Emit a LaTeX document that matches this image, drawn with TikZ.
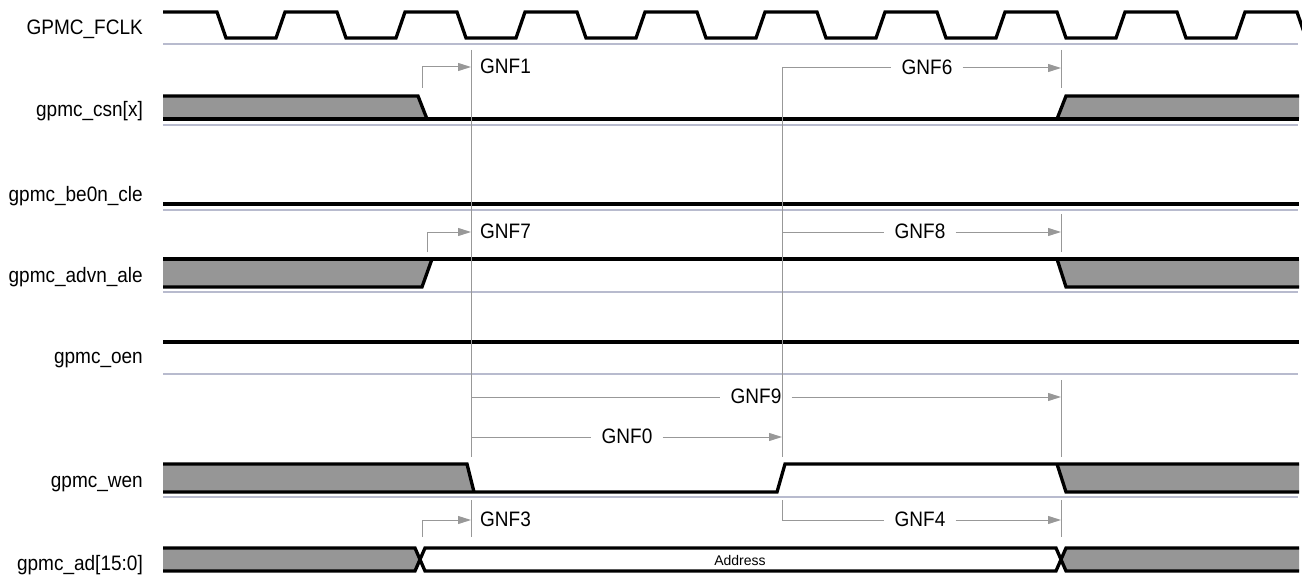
\documentclass[tikz,border=0pt]{standalone}
\usepackage{fontspec}
\setmainfont{Liberation Sans}
\usetikzlibrary{arrows.meta}
\definecolor{basec}{RGB}{184,187,206}
\definecolor{dcare}{RGB}{150,150,150}
\definecolor{annc}{RGB}{152,152,152}
\newcommand{\tall}[1]{\scalebox{1}[1.1]{#1}}
\begin{document}
\begin{tikzpicture}[x=1pt,y=-1pt,
  sig/.style={line width=3.3pt},
  baseln/.style={draw=basec,line width=1.3pt},
  dc/.style={fill=dcare},
  ann/.style={draw=annc,line width=1pt},
  annarr/.style={ann,-{Triangle[length=13pt,width=8pt]},color=annc},
  lbl/.style={anchor=base east,inner sep=0pt,font=\fontsize{19}{22}\selectfont},
  gnf/.style={inner xsep=10pt,inner ysep=0pt,font=\fontsize{19}{22}\selectfont},
  gnfl/.style={anchor=west,inner xsep=9pt,inner ysep=0pt,font=\fontsize{19}{22}\selectfont}]
\useasboundingbox (0,0) rectangle (1302,575);

% signal labels
\node[lbl] (lclk) at (143,35) {\tall{GPMC\_FCLK}};
\node[lbl] (lcsn) at (143,117) {\tall{gpmc\_csn[x]}};
\node[lbl] (lbe) at (143,201) {\tall{gpmc\_be0n\_cle}};
\node[lbl] (ladv) at (143,282) {\tall{gpmc\_advn\_ale}};
\node[lbl] (loen) at (143,363) {\tall{gpmc\_oen}};
\node[lbl] (lwen) at (143,487) {\tall{gpmc\_wen}};
\node[lbl] (lad) at (143,570) {\tall{gpmc\_ad[15:0]}};

% baselines
\foreach \y in {44,125,210,292,374,497} \draw[baseln] (163,\y) -- (1298,\y);

% clock
\begin{scope}
\clip (160,0) rectangle (1302,60);
\draw[sig] (163,12)
  \foreach \k in {0,...,9} {
    -- ({217+120*\k},12) -- ({226+120*\k},38) -- ({276+120*\k},38) -- ({285+120*\k},12)
  };
\end{scope}

% gpmc_csn[x]
\fill[dc] (163,96) -- (418,96) -- (427,119) -- (163,119) -- cycle;
\fill[dc] (1057,119) -- (1066,96) -- (1299,96) -- (1299,119) -- cycle;
\draw[sig] (163,96) -- (418,96) -- (427,119);
\draw[sig] (163,119) -- (1299,119);
\draw[sig] (1057,119) -- (1066,96) -- (1299,96);

% gpmc_be0n_cle
\draw[sig] (163,204) -- (1299,204);

% gpmc_advn_ale
\fill[dc] (163,259) -- (432,259) -- (422,287) -- (163,287) -- cycle;
\fill[dc] (1057,259) -- (1299,259) -- (1299,287) -- (1066,287) -- cycle;
\draw[sig] (163,259) -- (1299,259);
\draw[sig] (163,287) -- (422,287) -- (432,259);
\draw[sig] (1057,259) -- (1066,287) -- (1299,287);

% gpmc_oen
\draw[sig] (163,342) -- (1299,342);

% gpmc_wen
\fill[dc] (163,464) -- (467,464) -- (474,492) -- (163,492) -- cycle;
\fill[dc] (1057,464) -- (1299,464) -- (1299,492) -- (1066,492) -- cycle;
\draw[sig] (163,464) -- (467,464) -- (474,492);
\draw[sig] (163,492) -- (777,492) -- (785,464) -- (1299,464);
\draw[sig] (1057,464) -- (1066,492) -- (1299,492);

% gpmc_ad[15:0]
\fill[dc] (163,548) -- (415,548) -- (420,559.5) -- (415,571) -- (163,571) -- cycle;
\fill[dc] (1061,559.5) -- (1066,548) -- (1299,548) -- (1299,571) -- (1066,571) -- cycle;
\draw[sig] (163,548) -- (415,548) -- (425,571) -- (1056,571) -- (1066,548) -- (1299,548);
\draw[sig] (163,571) -- (415,571) -- (425,548) -- (1056,548) -- (1066,571) -- (1299,571);
\node[font=\fontsize{14}{16}\selectfont] (addr) at (740,560) {Address};

% timing reference lines
\coordinate (t1top) at (471,50);
\coordinate (t1bot) at (471,457);
\coordinate (t2top) at (782,68);
\coordinate (t2bot) at (782,457);
\draw[ann] (t1top) -- (t1bot);
\draw[ann] (t2top) -- (t2bot);
\draw[ann] (1061,50) -- (1061,88);
\draw[ann] (1061,214) -- (1061,252);
\draw[ann] (1061,380) -- (1061,457);
\draw[ann] (471,500) -- (471,537);
\draw[ann] (1061,500) -- (1061,537);

% GNF1
\coordinate (g1s) at (422,88);
\coordinate (g1e) at (471,67);
\draw[annarr] (g1s) |- (g1e);
\node[gnfl] (gnf1) at (471,66) {\tall{GNF1}};

% GNF7
\coordinate (g7s) at (427,252);
\coordinate (g7e) at (471,232);
\draw[annarr] (g7s) |- (g7e);
\node[gnfl] (gnf7) at (471,231) {\tall{GNF7}};

% GNF3
\coordinate (g3s) at (422,537);
\coordinate (g3e) at (471,520);
\draw[annarr] (g3s) |- (g3e);
\node[gnfl] (gnf3) at (471,519) {\tall{GNF3}};

% GNF6
\coordinate (g6s) at (782,68);
\coordinate (g6e) at (1061,68);
\node[gnf] (gnf6) at (927,67) {\tall{GNF6}};
\draw[ann] (g6s) -- (gnf6.west |- g6s);
\draw[annarr] (gnf6.east |- g6e) -- (g6e);

% GNF8
\coordinate (g8s) at (782,232);
\coordinate (g8e) at (1061,232);
\node[gnf] (gnf8) at (920,231) {\tall{GNF8}};
\draw[ann] (g8s) -- (gnf8.west |- g8s);
\draw[annarr] (gnf8.east |- g8e) -- (g8e);

% GNF9
\coordinate (g9s) at (471,397);
\coordinate (g9e) at (1061,397);
\node[gnf] (gnf9) at (756,396) {\tall{GNF9}};
\draw[ann] (g9s) -- (gnf9.west |- g9s);
\draw[annarr] (gnf9.east |- g9e) -- (g9e);

% GNF0
\coordinate (g0s) at (471,437);
\coordinate (g0e) at (782,437);
\node[gnf] (gnf0) at (627,436) {\tall{GNF0}};
\draw[ann] (g0s) -- (gnf0.west |- g0s);
\draw[annarr] (gnf0.east |- g0e) -- (g0e);

% GNF4
\coordinate (g4s) at (782,500);
\coordinate (g4c) at (782,520);
\coordinate (g4e) at (1061,520);
\node[gnf] (gnf4) at (920,519) {\tall{GNF4}};
\draw[ann] (g4s) -- (g4c) -- (gnf4.west |- g4c);
\draw[annarr] (gnf4.east |- g4e) -- (g4e);
\end{tikzpicture}
\end{document}
